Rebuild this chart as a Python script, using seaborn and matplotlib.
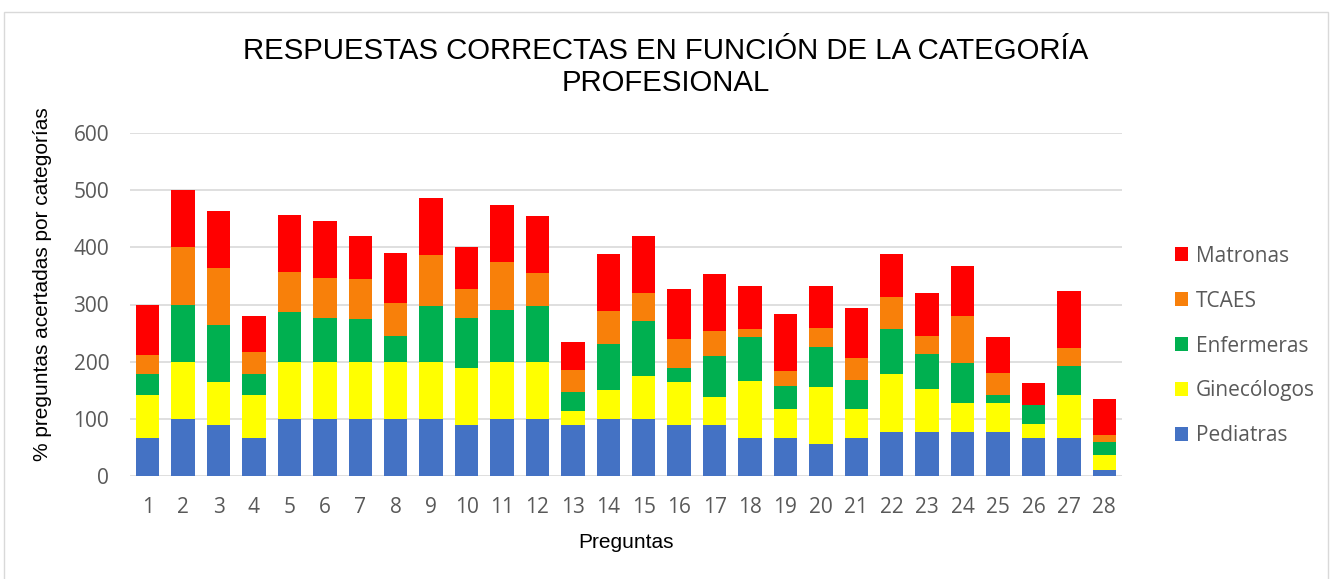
import matplotlib
matplotlib.use("Agg")
import matplotlib.pyplot as plt
from matplotlib.patches import Patch, Rectangle
import seaborn as sns

preguntas = [str(i) for i in range(1, 29)]
pediatras = [66.7, 100, 88.9, 66.7, 100, 100, 100, 100, 100, 88.9, 100, 100, 88.9, 100,
             100, 88.9, 88.9, 66.7, 66.7, 55.6, 66.7, 77.8, 77.8, 77.8, 77.8, 66.7, 66.7, 11.1]
ginecologos = [75, 100, 75, 75, 100, 100, 100, 100, 100, 100, 100, 100, 25, 50,
               75, 75, 50, 100, 50, 100, 50, 100, 75, 50, 50, 25, 75, 25]
enfermeras = [37.5, 100, 100, 37.5, 87.5, 76, 75, 45.5, 98, 87.5, 91, 98, 33, 81.5,
              95.5, 25.6, 71, 77, 41, 70.5, 51, 79, 61, 70, 14, 33, 50, 23]
tcaes = [32, 100, 100, 38, 69, 70, 69, 56.5, 88, 50, 83, 56.5, 38, 56.5,
         50, 50, 43, 13.4, 25.6, 32, 38, 56.5, 31.5, 81.6, 38, 0, 32, 12.7]
matronas = [87.5, 100, 100, 62.5, 100, 100, 75, 87.5, 100, 75, 100, 100, 50, 100,
            100, 87.5, 100, 75, 100, 75, 87.5, 75, 75, 87.5, 62.5, 37.5, 100, 62.5]

series = ["Pediatras", "Ginecólogos", "Enfermeras", "TCAES", "Matronas"]
valores = [pediatras, ginecologos, enfermeras, tcaes, matronas]
colores = ["#4472C4", "#FFFF00", "#00B050", "#F8800A", "#FF0000"]

# acumulados para apilar
acum = []
tot = [0] * len(preguntas)
for v in valores:
    tot = [a + b for a, b in zip(tot, v)]
    acum.append(tot)

W, H = 1331, 579
fig = plt.figure(figsize=(W / 100, H / 100), dpi=100)
ax = fig.add_axes([130 / W, 1 - 476 / H, 992 / W, 343 / H])

# se dibuja de arriba hacia abajo
for cum, col in zip(reversed(acum), reversed(colores)):
    sns.barplot(x=preguntas, y=cum, color=col, saturation=1, width=0.66,
                linewidth=0, ax=ax, zorder=3)

ax.set_xlim(-0.5, 27.5)
ax.set_ylim(0, 600)
ax.set_yticks(range(0, 601, 100))
ax.grid(axis="y", color="#d9d9d9", linewidth=1.2, zorder=0)
ax.set_axisbelow(True)
for s in ax.spines.values():
    s.set_visible(False)
ax.tick_params(length=0, labelsize=15, labelcolor="#595959")
ax.tick_params(axis="x", pad=15)
ax.tick_params(axis="y", pad=15)
for lab in ax.get_xticklabels() + ax.get_yticklabels():
    lab.set_family(["Open Sans", "DejaVu Sans"])
ax.set_xlabel("")
ax.set_ylabel("")

fig.text(0.5, 1 - 67 / H, "RESPUESTAS CORRECTAS EN FUNCIÓN DE LA CATEGORÍA\nPROFESIONAL",
         ha="center", va="center", fontsize=21.2, linespacing=1.15,
         family=["Liberation Sans", "DejaVu Sans"])
fig.text(626 / W, 1 - 542 / H, "Preguntas", ha="center", va="center",
         fontsize=15, family=["Liberation Sans", "DejaVu Sans"])
fig.text(43 / W, 1 - 284 / H, "% preguntas acertadas por categorías", ha="center",
         va="center", rotation=90, fontsize=15, family=["Liberation Sans", "DejaVu Sans"])

handles = [Patch(facecolor=c, edgecolor="none") for c in reversed(colores)]
leg = fig.legend(handles, list(reversed(series)), loc="center left",
                 bbox_to_anchor=(1156 / W, 1 - 346 / H), frameon=False,
                 handlelength=0.65, handleheight=0.65, handletextpad=0.35,
                 labelspacing=1.15, prop={"family": "Open Sans", "size": 15})
for t in leg.get_texts():
    t.set_color("#595959")

fig.patches.append(Rectangle((4 / W, -0.01), 1324 / W, 1.01 - 12 / H,
                             transform=fig.transFigure, fill=False,
                             edgecolor="#d9d9d9", linewidth=1))

fig.savefig("out.png", dpi=100)
